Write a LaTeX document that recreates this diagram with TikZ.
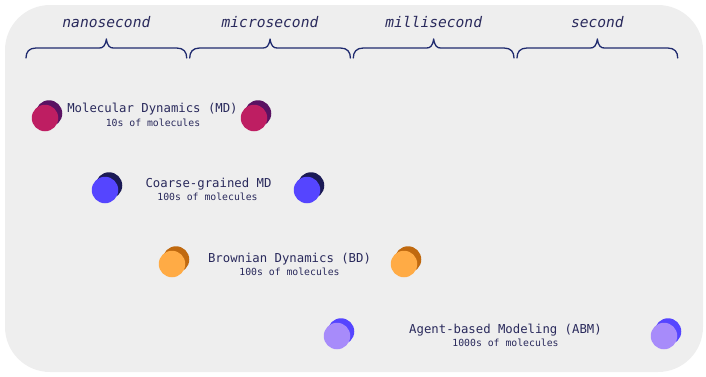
\documentclass[tikz,border=0pt]{standalone}
\usepackage{fontspec}
\setmonofont{DejaVu Sans Mono}
\definecolor{bgpanel}{HTML}{EEEEEE}
\definecolor{ink}{HTML}{2A2A5C}
\definecolor{bracec}{HTML}{1F2A6E}
\definecolor{mdfront}{HTML}{BE1E62}
\definecolor{mdback}{HTML}{5A1262}
\definecolor{cgfront}{HTML}{5545FF}
\definecolor{cgback}{HTML}{1B1A55}
\definecolor{bdfront}{HTML}{FFAB45}
\definecolor{bdback}{HTML}{C0690F}
\definecolor{abfront}{HTML}{A78BFA}
\definecolor{abback}{HTML}{5545FF}
\begin{document}
\begin{tikzpicture}[x=1pt,y=-1pt,
  dot/.style={circle,minimum size=26.5pt,inner sep=0pt,draw=none},
  title/.style={text=ink,inner sep=0pt,font=\ttfamily\fontsize{12.3}{14}\selectfont},
  sub/.style={text=ink,inner sep=0pt,font=\ttfamily\fontsize{9.8}{11}\selectfont},
  head/.style={text=ink,inner sep=0pt,font=\ttfamily\itshape\fontsize{14.6}{17}\selectfont},
  brace line/.style={draw=bracec,line width=1.3pt,line cap=round,line join=round},
  tbrace/.pic={\draw[brace line] (0,19) .. controls (0,13) and (3,9) .. (10,9) -- (73.3,9) .. controls (77,9) and (79.3,7) .. (80.35,0) .. controls (81.4,7) and (83.7,9) .. (87.4,9) -- (150.7,9) .. controls (157.7,9) and (160.7,13) .. (160.7,19);}
]
\useasboundingbox (0,0) rectangle (706,376);
\fill[bgpanel,rounded corners=45pt] (5,5) rectangle (703,372);

% time scale headers
\node[head] (hns) at (106.4,22) {nanosecond};
\node[head] (hus) at (270.0,22) {microsecond};
\node[head] (hms) at (433.7,22) {millisecond};
\node[head] (hs)  at (597.4,22) {second};
\pic (b1) at (26,39) {tbrace};
\pic (b2) at (189.7,39) {tbrace};
\pic (b3) at (353.3,39) {tbrace};
\pic (b4) at (517,39) {tbrace};

% pairs of dots: name/front colour/back colour/left x/right x/y
\foreach \n/\fc/\bc/\xa/\xb/\yy in {md/mdfront/mdback/45/254/118,
                                     cg/cgfront/cgback/105/307/190,
                                     bd/bdfront/bdback/172/404/264,
                                     ab/abfront/abback/337/664/336}{
  \node[dot,fill=\bc] (\n-lb) at (\xa+4,\yy-4.5) {};
  \node[dot,fill=\fc] (\n-l) at (\xa,\yy) {};
  \node[dot,fill=\bc] (\n-rb) at (\xb+4,\yy-4.5) {};
  \node[dot,fill=\fc] (\n-r) at (\xb,\yy) {};
}

% labels
\node[title] (mdt) at (152.5,109) {Molecular Dynamics (MD)};
\node[sub]   (mds) at (153,123) {10s of molecules};
\node[title] (cgt) at (208.5,184) {Coarse-grained MD};
\node[sub]   (cgs) at (207.5,197) {100s of molecules};
\node[title] (bdt) at (289.5,259) {Brownian Dynamics (BD)};
\node[sub]   (bds) at (289.5,272) {100s of molecules};
\node[title] (abt) at (505.5,330) {Agent-based Modeling (ABM)};
\node[sub]   (abs) at (505.5,343) {1000s of molecules};
\end{tikzpicture}
\end{document}
